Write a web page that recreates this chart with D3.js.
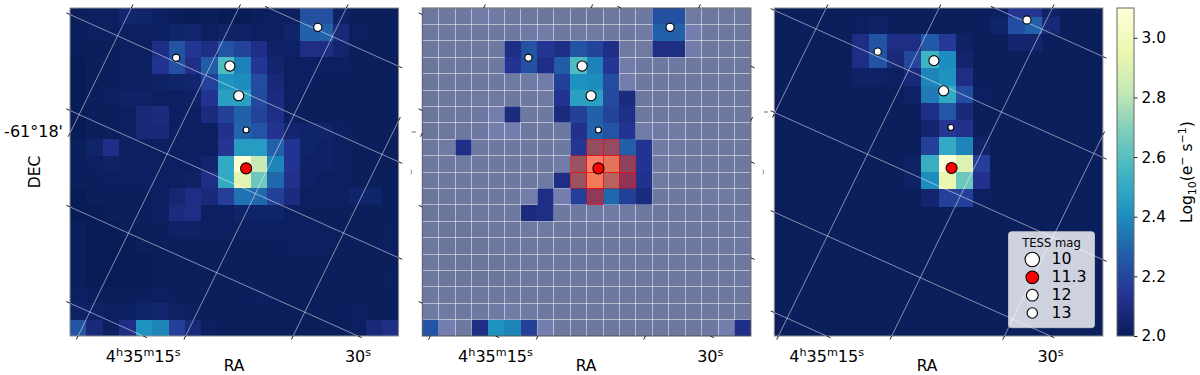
<!DOCTYPE html>
<meta charset="utf-8">
<title>TESS target pixel files</title>
<style>
body { margin: 0; background: #fff; }
text { font-family: "DejaVu Sans", sans-serif; fill: #000; }
</style>
<body>
<div id="chart"></div>
<script src="https://d3js.org/d3.v7.min.js"></script>
<script>

// observed image, log10 flux per pixel, top row first
var fluxObserved = [
  [2.01,2.02,2.02,2.05,2.04,2.02,2.01,2.00,2.01,2.00,2.00,2.01,2.02,2.02,2.23,2.23,2.03,2.01,2.01,2.01],
  [2.01,2.02,2.02,2.02,2.02,2.02,2.04,2.05,2.02,2.03,2.03,2.02,2.02,2.04,2.28,2.28,2.08,2.02,2.01,2.01],
  [2.01,2.01,2.01,2.02,2.02,2.10,2.24,2.14,2.10,2.24,2.19,2.11,2.03,2.03,2.10,2.10,2.05,2.01,2.01,2.01],
  [2.00,2.01,2.01,2.02,2.02,2.13,2.23,2.11,2.27,2.58,2.37,2.14,2.05,2.02,2.02,2.02,2.02,2.01,2.01,2.01],
  [2.00,2.01,2.01,2.02,2.02,2.03,2.04,2.05,2.18,2.42,2.40,2.22,2.07,2.02,2.02,2.01,2.01,2.01,2.01,2.01],
  [2.00,2.01,2.02,2.03,2.03,2.02,2.02,2.03,2.13,2.47,2.47,2.21,2.09,2.02,2.01,2.01,2.01,2.01,2.01,2.01],
  [2.00,2.01,2.01,2.02,2.07,2.09,2.02,2.02,2.09,2.18,2.28,2.19,2.11,2.02,2.01,2.01,2.01,2.01,2.01,2.01],
  [2.00,2.01,2.01,2.02,2.07,2.07,2.02,2.02,2.02,2.12,2.29,2.24,2.13,2.05,2.04,2.04,2.02,2.01,2.01,2.01],
  [2.01,2.04,2.11,2.02,2.02,2.02,2.02,2.02,2.02,2.14,2.45,2.45,2.28,2.13,2.04,2.03,2.02,2.01,2.01,2.01],
  [2.01,2.02,2.03,2.02,2.02,2.02,2.02,2.02,2.05,2.50,3.08,2.83,2.38,2.13,2.03,2.03,2.02,2.01,2.01,2.01],
  [2.01,2.01,2.02,2.02,2.02,2.02,2.02,2.03,2.10,2.50,2.93,2.65,2.30,2.12,2.03,2.02,2.02,2.01,2.01,2.01],
  [2.00,2.01,2.01,2.01,2.01,2.02,2.06,2.10,2.08,2.17,2.33,2.30,2.18,2.09,2.02,2.02,2.02,2.04,2.04,2.01],
  [2.00,2.00,2.01,2.01,2.01,2.02,2.09,2.10,2.02,2.02,2.04,2.04,2.04,2.02,2.01,2.01,2.01,2.01,2.01,2.01],
  [2.01,2.00,2.00,2.01,2.01,2.01,2.03,2.03,2.02,2.02,2.02,2.02,2.02,2.02,2.02,2.02,2.01,2.01,2.01,2.02],
  [2.01,2.00,2.00,2.00,2.01,2.01,2.01,2.01,2.01,2.01,2.01,2.01,2.01,2.02,2.02,2.02,2.01,2.01,2.01,2.02],
  [2.01,2.00,2.00,2.00,2.00,2.01,2.01,2.01,2.01,2.01,2.01,2.01,2.01,2.01,2.01,2.01,2.01,2.01,2.01,2.01],
  [2.01,2.00,2.00,2.00,2.00,2.01,2.01,2.01,2.01,2.01,2.01,2.01,2.01,2.01,2.01,2.01,2.01,2.01,2.01,2.02],
  [2.02,2.01,2.01,2.01,2.01,2.02,2.01,2.01,2.01,2.01,2.01,2.02,2.01,2.01,2.01,2.01,2.01,2.01,2.01,2.01],
  [2.03,2.03,2.02,2.02,2.04,2.05,2.03,2.02,2.01,2.01,2.01,2.01,2.01,2.01,2.01,2.01,2.01,2.02,2.01,2.01],
  [2.24,2.08,2.02,2.10,2.42,2.38,2.18,2.07,2.02,2.01,2.01,2.01,2.01,2.01,2.01,2.01,2.01,2.02,2.07,2.11]
];

// model image, top row and left column are half cut off by the frame
var fluxModel = [
  [2.01,2.01,2.01,2.01,2.01,2.01,2.01,2.01,2.01,2.01,2.01,2.01,2.01,2.02,2.13,2.13,2.03,2.01,2.01,2.01],
  [2.01,2.01,2.01,2.01,2.01,2.02,2.03,2.01,2.01,2.01,2.01,2.01,2.01,2.04,2.22,2.28,2.07,2.01,2.01,2.01],
  [2.01,2.01,2.01,2.01,2.01,2.10,2.24,2.10,2.10,2.26,2.15,2.03,2.01,2.01,2.05,2.05,2.01,2.01,2.01,2.01],
  [2.01,2.01,2.01,2.01,2.01,2.10,2.24,2.08,2.20,2.54,2.40,2.05,2.01,2.01,2.01,2.01,2.01,2.01,2.01,2.01],
  [2.01,2.01,2.01,2.01,2.01,2.03,2.03,2.02,2.08,2.38,2.42,2.10,2.01,2.01,2.01,2.01,2.01,2.01,2.01,2.01],
  [2.01,2.01,2.01,2.01,2.01,2.01,2.01,2.01,2.03,2.35,2.50,2.22,2.02,2.01,2.01,2.01,2.01,2.01,2.01,2.01],
  [2.01,2.01,2.01,2.01,2.01,2.01,2.01,2.01,2.01,2.10,2.25,2.08,2.01,2.01,2.01,2.01,2.01,2.01,2.01,2.01],
  [2.01,2.01,2.01,2.01,2.01,2.01,2.01,2.01,2.01,2.05,2.14,2.12,2.01,2.01,2.01,2.01,2.01,2.01,2.01,2.01],
  [2.01,2.01,2.01,2.01,2.01,2.01,2.01,2.01,2.01,2.18,2.50,2.38,2.04,2.01,2.01,2.01,2.01,2.01,2.01,2.01],
  [2.01,2.01,2.01,2.01,2.01,2.01,2.01,2.01,2.03,2.52,3.09,2.90,2.17,2.01,2.01,2.01,2.01,2.01,2.01,2.01],
  [2.01,2.01,2.01,2.01,2.01,2.01,2.01,2.01,2.03,2.40,2.95,2.65,2.12,2.01,2.01,2.01,2.01,2.01,2.01,2.01],
  [2.01,2.01,2.01,2.01,2.01,2.01,2.01,2.01,2.01,2.05,2.18,2.18,2.02,2.01,2.01,2.01,2.01,2.01,2.01,2.01],
  [2.01,2.01,2.01,2.01,2.01,2.01,2.01,2.01,2.01,2.01,2.01,2.01,2.01,2.01,2.01,2.01,2.01,2.01,2.01,2.01],
  [2.01,2.01,2.01,2.01,2.01,2.01,2.01,2.01,2.01,2.01,2.01,2.01,2.01,2.01,2.01,2.01,2.01,2.01,2.01,2.01],
  [2.01,2.01,2.01,2.01,2.01,2.01,2.01,2.01,2.01,2.01,2.01,2.01,2.01,2.01,2.01,2.01,2.01,2.01,2.01,2.01],
  [2.01,2.01,2.01,2.01,2.01,2.01,2.01,2.01,2.01,2.01,2.01,2.01,2.01,2.01,2.01,2.01,2.01,2.01,2.01,2.01],
  [2.01,2.01,2.01,2.01,2.01,2.01,2.01,2.01,2.01,2.01,2.01,2.01,2.01,2.01,2.01,2.01,2.01,2.01,2.01,2.01],
  [2.01,2.01,2.01,2.01,2.01,2.01,2.01,2.01,2.01,2.01,2.01,2.01,2.01,2.01,2.01,2.01,2.01,2.01,2.01,2.01],
  [2.01,2.01,2.01,2.01,2.01,2.01,2.01,2.01,2.01,2.01,2.01,2.01,2.01,2.01,2.01,2.01,2.01,2.01,2.01,2.01],
  [2.01,2.01,2.01,2.01,2.01,2.01,2.01,2.01,2.01,2.01,2.01,2.01,2.01,2.01,2.01,2.01,2.01,2.01,2.01,2.01]
];

var maskThreshold = 2.09;
// aperture pixels as [col, row]
var aperture = [[10,8],[11,8],[9,9],[10,9],[11,9],[12,9],[9,10],[10,10],[11,10],[12,10],[10,11]];

// stars: col, row, TESS mag (index 4 is the target)
var starsObserved = [[6.46,3.03,12.9],[9.73,3.54,11.7],[10.27,5.35,11.7],[10.72,7.44,13.4],[10.72,9.78,11.3],[15.08,1.18,12.5]];
var starsModel = [[5.98,2.53,12.9],[9.23,3.05,11.7],[9.79,4.80,11.7],[10.21,6.92,13.4],[10.25,9.27,11.3],[14.61,0.69,12.5]];

// sky grid: RA lines by col at the top edge, DEC lines by row at the left edge
var raLinesObserved = [3.73,10.27,16.82,23.36];
var decLinesObserved = [-5.43,0.40,6.25,12.13,18.0];
var raLinesModel = [3.0,9.53,16.08,22.6];
var decLinesModel = [-5.72,0.13,6.05,11.83,17.64];
var raSlope = 0.489, decSlope = 0.449;

var raTickLabels = ["4h35m15s", "30s"];
var decTickLabel = "-61°18'";

var legendMags = ["10", "11.3", "12", "13"];
var colorbarTicks = [2.0, 2.2, 2.4, 2.6, 2.8, 3.0];

var totalW = 1200, totalH = 375;
var plotTop = 8, plotBottom = 336;

var svg = d3.select("#chart").append("svg")
  .attr("width", totalW)
  .attr("height", totalH)
  .style("display", "block");

// matplotlib YlGnBu_r, 9 stops from 2.0 to 3.1
var color = d3.scaleLinear()
  .domain(d3.quantize(d3.interpolateNumber(2.0, 3.1), 9))
  .range(d3.schemeYlGnBu[9].slice().reverse());

var starR = d3.scaleLinear().domain([10, 13.4]).range([7.6, 3.5]);
var legendR = d3.scaleLinear().domain([10, 13]).range([7.2, 5.2]);

var panels = [
  {id: "a", left: 70, n: 20, shift: 0, flux: fluxObserved, stars: starsObserved, ra: raLinesObserved, dec: decLinesObserved, grid: true, raLabelX: 234},
  {id: "b", left: 422.3, n: 20, shift: 0, flux: fluxObserved, stars: starsObserved, ra: raLinesObserved, dec: decLinesObserved, grid: false, raLabelX: 586},
  {id: "c", left: 774.3, n: 19, shift: 0.5, flux: fluxModel, stars: starsModel, ra: raLinesModel, dec: decLinesModel, grid: true, raLabelX: 927}
];
var panelW = 328.6;

panels.forEach(function (p, pi) {
  var x = d3.scaleLinear().domain([0, p.n]).range([p.left, p.left + panelW]);
  var y = d3.scaleLinear().domain([0, p.n]).range([plotTop, plotBottom]);
  var n = p.n;

  svg.append("clipPath").attr("id", "clip-" + p.id)
    .append("rect")
      .attr("x", p.left).attr("y", plotTop)
      .attr("width", panelW).attr("height", plotBottom - plotTop);

  var g = svg.append("g").attr("clip-path", "url(#clip-" + p.id + ")");

  var cells = [];
  p.flux.forEach(function (row, j) {
    row.forEach(function (v, i) { cells.push({i: i, j: j, v: v}); });
  });

  g.selectAll("rect.cell")
    .data(cells)
    .enter()
    .append("rect")
      .attr("class", "cell")
      .attr("x", function (d) { return x(d.i - p.shift); })
      .attr("y", function (d) { return y(d.j - p.shift); })
      .attr("width", x(1) - x(0))
      .attr("height", y(1) - y(0))
      .attr("shape-rendering", "crispEdges")
      .attr("fill", function (d) { return color(d.v); });

  // mask and aperture only on the middle panel
  if (p.id == "b") {
    g.selectAll("rect.mask")
      .data(cells.filter(function (d) { return d.v < maskThreshold; }))
      .enter()
      .append("rect")
        .attr("class", "mask")
        .attr("x", function (d) { return x(d.i); })
        .attr("y", function (d) { return y(d.j); })
        .attr("width", x(1) - x(0))
        .attr("height", y(1) - y(0))
        .attr("shape-rendering", "crispEdges")
        .attr("fill", "#fff")
        .attr("fill-opacity", 0.4)
        .attr("stroke", "#fff")
        .attr("stroke-opacity", 0.3)
        .attr("stroke-width", 1);

    g.selectAll("rect.aper")
      .data(aperture)
      .enter()
      .append("rect")
        .attr("class", "aper")
        .attr("x", function (d) { return x(d[0]); })
        .attr("y", function (d) { return y(d[1]); })
        .attr("width", x(1) - x(0))
        .attr("height", y(1) - y(0))
        .attr("shape-rendering", "crispEdges")
        .attr("fill", "#f00")
        .attr("fill-opacity", 0.5)
        .attr("stroke", "#f00")
        .attr("stroke-opacity", 0.45)
        .attr("stroke-width", 1);
  }

  // sky grid segments inside the frame, in cell units
  var segs = [];
  p.dec.forEach(function (y0) {
    var a = Math.max(0, -y0 / decSlope), b = Math.min(n, (n - y0) / decSlope);
    if (b > a) segs.push([a, y0 + decSlope * a, b, y0 + decSlope * b]);
  });
  p.ra.forEach(function (x0) {
    var a = Math.max(0, (x0 - n) / raSlope), b = Math.min(n, x0 / raSlope);
    if (b > a) segs.push([x0 - raSlope * a, a, x0 - raSlope * b, b]);
  });

  if (p.grid) {
    g.selectAll("line.sky")
      .data(segs)
      .enter()
      .append("line")
        .attr("class", "sky")
        .attr("x1", function (d) { return x(d[0]); })
        .attr("y1", function (d) { return y(d[1]); })
        .attr("x2", function (d) { return x(d[2]); })
        .attr("y2", function (d) { return y(d[3]); })
        .attr("stroke", "#fff")
        .attr("stroke-opacity", 0.5)
        .attr("stroke-width", 1);
  }

  // frame
  svg.append("rect")
    .attr("x", p.left).attr("y", plotTop)
    .attr("width", panelW).attr("height", plotBottom - plotTop)
    .attr("fill", "none")
    .attr("stroke", p.id == "b" ? "#555" : "#8c8c8c")
    .attr("stroke-width", 1);

  // ticks carry on along the grid direction outside the frame
  var tickLen = 4;
  var ticks = [];
  segs.forEach(function (s) {
    var dx = x(s[2]) - x(s[0]), dy = y(s[3]) - y(s[1]);
    var len = Math.sqrt(dx * dx + dy * dy);
    ticks.push([x(s[0]), y(s[1]), x(s[0]) - dx / len * tickLen, y(s[1]) - dy / len * tickLen]);
    ticks.push([x(s[2]), y(s[3]), x(s[2]) + dx / len * tickLen, y(s[3]) + dy / len * tickLen]);
  });
  svg.append("g").selectAll("line")
    .data(ticks)
    .enter()
    .append("line")
      .attr("x1", function (d) { return d[0]; })
      .attr("y1", function (d) { return d[1]; })
      .attr("x2", function (d) { return d[2]; })
      .attr("y2", function (d) { return d[3]; })
      .attr("stroke", "#222")
      .attr("stroke-width", 1);

  // stars
  svg.append("g").selectAll("circle")
    .data(p.stars)
    .enter()
    .append("circle")
      .attr("cx", function (d) { return x(d[0]); })
      .attr("cy", function (d) { return y(d[1]); })
      .attr("r", function (d) { return starR(d[2]) - 0.5; })
      .attr("fill", function (d, i) { return i == 4 ? "#f00" : "#fff"; })
      .attr("stroke", "#000")
      .attr("stroke-width", 1.1);

  // RA tick labels sit where the two lowest DEC lines reach the bottom edge
  var low = p.dec.slice(-2).reverse();
  raTickLabels.forEach(function (lab, k) {
    var t = svg.append("text")
      .attr("x", x((n - low[k]) / decSlope))
      .attr("y", 361.5)
      .attr("text-anchor", "middle")
      .attr("font-size", 16);
    lab.match(/\d+|[a-z]/g).forEach(function (part, m) {
      var sup = /[a-z]/.test(part);
      t.append("tspan")
        .attr("font-size", sup ? 11.2 : 16)
        .attr("dy", sup ? -6 : (m > 0 ? 6 : 0))
        .text(part);
    });
  });

  svg.append("text")
    .attr("x", p.raLabelX)
    .attr("y", 371)
    .attr("text-anchor", "middle")
    .attr("font-size", 15.5)
    .text("RA");

  // cut off tick labels left over between the panels
  if (pi > 0) {
    var dashY = p.id == "b" ? 132 : 112;
    svg.append("line")
      .attr("x1", p.left - 10.5).attr("x2", p.left - 6.5)
      .attr("y1", dashY).attr("y2", dashY)
      .attr("stroke", "#666");
    svg.append("line")
      .attr("x1", p.left - 11).attr("x2", p.left - 11)
      .attr("y1", 169.5).attr("y2", 174.5)
      .attr("stroke", "#999");
  }
});

// left axis text
svg.append("text")
  .attr("x", 63).attr("y", 136.5)
  .attr("text-anchor", "end")
  .attr("font-size", 16)
  .text(decTickLabel);

svg.append("text")
  .attr("transform", "translate(40,172) rotate(-90)")
  .attr("text-anchor", "middle")
  .attr("font-size", 15.5)
  .text("DEC");

// legend on the right panel
var legendX = 1008.5, legendY = 231.7, legendW = 86, legendH = 96;
var legendRowY = d3.scalePoint().domain(legendMags).range([259.5, 313]);

svg.append("rect")
  .attr("x", legendX).attr("y", legendY)
  .attr("width", legendW).attr("height", legendH)
  .attr("rx", 3)
  .attr("fill", "#fff")
  .attr("fill-opacity", 0.8)
  .attr("stroke", "#ccc")
  .attr("stroke-opacity", 0.8);

svg.append("text")
  .attr("x", 1051.5).attr("y", 242.5)
  .attr("dy", "0.35em")
  .attr("text-anchor", "middle")
  .attr("font-size", 11.6)
  .text("TESS mag");

svg.append("g").selectAll("circle")
  .data(legendMags)
  .enter()
  .append("circle")
    .attr("cx", 1032.3)
    .attr("cy", function (d) { return legendRowY(d); })
    .attr("r", function (d) { return legendR(+d); })
    .attr("fill", function (d) { return d == "11.3" ? "#f00" : "#fff"; })
    .attr("stroke", "#000")
    .attr("stroke-width", 1.1);

svg.append("g").selectAll("text")
  .data(legendMags)
  .enter()
  .append("text")
    .attr("x", 1051.5)
    .attr("y", function (d) { return legendRowY(d) - 1.5; })
    .attr("dy", "0.38em")
    .attr("font-size", 15.8)
    .text(function (d) { return d; });

// colorbar
var barX = 1117, barW = 17;
var barY = d3.scaleLinear().domain([2.0, 3.1]).range([plotBottom, plotTop]);

svg.append("g").selectAll("rect")
  .data(d3.range(328))
  .enter()
  .append("rect")
    .attr("x", barX)
    .attr("y", function (d) { return barY(2.0 + 1.1 * (d + 1) / 328); })
    .attr("width", barW)
    .attr("height", (plotBottom - plotTop) / 328)
    .attr("shape-rendering", "crispEdges")
    .attr("fill", function (d) { return color(2.0 + 1.1 * (d + 0.5) / 328); });

svg.append("rect")
  .attr("x", barX).attr("y", plotTop)
  .attr("width", barW).attr("height", plotBottom - plotTop)
  .attr("fill", "none")
  .attr("stroke", "#666");

var barAxis = svg.append("g")
  .attr("transform", "translate(" + (barX + barW) + ",0)")
  .call(d3.axisRight(barY).tickValues(colorbarTicks).tickFormat(d3.format(".1f")).tickSize(3.5).tickPadding(4));
barAxis.select(".domain").remove();
barAxis.selectAll("text").attr("font-size", 15.4).style("font-family", "'DejaVu Sans', sans-serif");
barAxis.selectAll("line").attr("stroke", "#222");

var cbLabel = svg.append("text")
  .attr("transform", "translate(1192,172) rotate(-90)")
  .attr("text-anchor", "middle")
  .attr("font-size", 15.5);
cbLabel.append("tspan").text("Log");
cbLabel.append("tspan").attr("font-size", 11).attr("dy", 4).text("10");
cbLabel.append("tspan").attr("dy", -4).text("(e");
cbLabel.append("tspan").attr("font-size", 11).attr("dy", -6).text("\u2212");
cbLabel.append("tspan").attr("dy", 6).text("\u00a0s");
cbLabel.append("tspan").attr("font-size", 11).attr("dy", -6).text("\u22121");
cbLabel.append("tspan").attr("dy", 6).text(")");

</script>
</body>
